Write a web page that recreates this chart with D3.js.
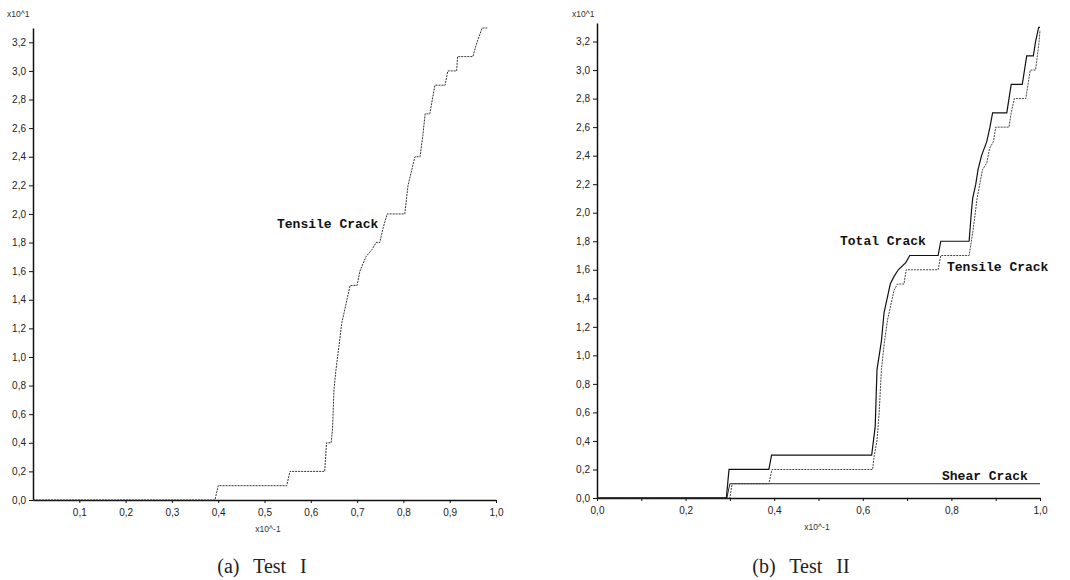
<!DOCTYPE html>
<html lang="en">
	<head>
		<meta charset="utf-8">
		<title>Crack growth - Test I / Test II</title>
		<script type="text/javascript" src="https://cdn.jsdelivr.net/npm/d3@7"></script>
		<style type="text/css">
			body {
				margin: 0;
				background-color: white;
			}
			.axis text {
				font-family: "Liberation Sans", Arial, sans-serif;
				font-size: 10px;
				fill: #222;
			}
			.axis path, .axis line {
				stroke: #111;
			}
			.unit {
				font-family: "Liberation Sans", Arial, sans-serif;
				font-size: 8.5px;
				fill: #333;
			}
			.curveLabel {
				font-family: "Liberation Mono", "Courier New", monospace;
				font-size: 13px;
				font-weight: bold;
				fill: #111;
			}
			.caption {
				font-family: "Liberation Serif", "DejaVu Serif", serif;
				font-size: 20px;
				fill: #222;
				word-spacing: 9px;
			}
		</style>
	</head>
	<body>
		<script type="text/javascript">

			//Width and height
			var w = 1070;
			var h = 580;

			//Tick values (x10^1 on y, x10^-1 on x)
			var yTicks = [0, 0.2, 0.4, 0.6, 0.8, 1.0, 1.2, 1.4, 1.6, 1.8, 2.0, 2.2, 2.4, 2.6, 2.8, 3.0, 3.2];
			var xTicksA = [0.1, 0.2, 0.3, 0.4, 0.5, 0.6, 0.7, 0.8, 0.9, 1.0];
			var xTicksB = [0, 0.2, 0.4, 0.6, 0.8, 1.0];
			var xMinorB = [0.1, 0.3, 0.5, 0.7, 0.9];

			//Test I - tensile crack (x, y)
			var tensileA = [[0, 0], [0.393, 0], [0.400, 0.1], [0.548, 0.1], [0.555, 0.2], [0.630, 0.2],
				[0.632, 0.3], [0.634, 0.4], [0.644, 0.4], [0.647, 0.5], [0.650, 0.77], [0.654, 0.9],
				[0.661, 1.08], [0.667, 1.24], [0.672, 1.31], [0.678, 1.4], [0.685, 1.5], [0.700, 1.5],
				[0.706, 1.6], [0.719, 1.7], [0.732, 1.75], [0.741, 1.8], [0.749, 1.8], [0.756, 1.9],
				[0.765, 2.0], [0.803, 2.0], [0.810, 2.2], [0.825, 2.4], [0.836, 2.4], [0.842, 2.55],
				[0.847, 2.7], [0.857, 2.7], [0.868, 2.9], [0.890, 2.9], [0.896, 3.0], [0.915, 3.0],
				[0.917, 3.1], [0.950, 3.1], [0.959, 3.2], [0.970, 3.3], [0.981, 3.3]];

			//Test II - total, tensile and shear cracks (x, y)
			var totalB = [[0, 0], [0.292, 0], [0.298, 0.2], [0.388, 0.2], [0.394, 0.3], [0.620, 0.3],
				[0.624, 0.4], [0.628, 0.5], [0.632, 0.9], [0.637, 1.0], [0.642, 1.1], [0.648, 1.3],
				[0.655, 1.4], [0.662, 1.5], [0.670, 1.55], [0.680, 1.6], [0.697, 1.65], [0.706, 1.7],
				[0.770, 1.7], [0.776, 1.8], [0.840, 1.8], [0.845, 2.0], [0.848, 2.1], [0.855, 2.2],
				[0.860, 2.3], [0.868, 2.4], [0.880, 2.5], [0.887, 2.6], [0.893, 2.7], [0.925, 2.7],
				[0.930, 2.8], [0.935, 2.9], [0.960, 2.9], [0.965, 3.0], [0.970, 3.1], [0.985, 3.1],
				[0.990, 3.2], [0.997, 3.3], [1.0, 3.3]];

			var tensileB = [[0, 0], [0.300, 0], [0.305, 0.1], [0.388, 0.1], [0.395, 0.2], [0.622, 0.2],
				[0.626, 0.3], [0.632, 0.4], [0.637, 0.6], [0.642, 0.9], [0.649, 1.1], [0.656, 1.25],
				[0.663, 1.35], [0.670, 1.45], [0.678, 1.5], [0.693, 1.5], [0.698, 1.6], [0.770, 1.6],
				[0.776, 1.7], [0.840, 1.7], [0.845, 1.8], [0.850, 1.9], [0.858, 2.1], [0.864, 2.2],
				[0.870, 2.3], [0.880, 2.35], [0.886, 2.45], [0.895, 2.5], [0.900, 2.6], [0.930, 2.6],
				[0.935, 2.7], [0.942, 2.8], [0.968, 2.8], [0.973, 2.9], [0.978, 3.0], [0.990, 3.0],
				[0.994, 3.1], [0.998, 3.2], [1.0, 3.28]];

			var shearB = [[0, 0], [0.293, 0], [0.300, 0.1], [1.0, 0.1]];

			//Create SVG element
			var svg = d3.select("body")
						.append("svg")
						.attr("width", w)
						.attr("height", h);

			svg.append("rect")
				.attr("width", w)
				.attr("height", h)
				.attr("fill", "white");

			var commaFormat = function(d) {
				return d3.format(".1f")(d).replace(".", ",");
			};

			//Scales for panel (a)
			var xScaleA = d3.scaleLinear().domain([0, 1]).range([33, 496]);
			var yScaleA = d3.scaleLinear().domain([0, 3.3]).range([500, 28]);

			//Scales for panel (b)
			var xScaleB = d3.scaleLinear().domain([0, 1]).range([597, 1040]);
			var yScaleB = d3.scaleLinear().domain([0, 3.33]).range([498, 23]);

			function drawAxes(xScale, yScale, xTicks, minor) {
				//Minor x ticks
				if (minor) {
					svg.append("g")
						.attr("class", "x axis")
						.attr("transform", "translate(0," + yScale(0) + ")")
						.call(d3.axisBottom(xScale).tickValues(minor).tickSize(3).tickFormat(""))
						.select(".domain").remove();
				}

				//Create X axis
				svg.append("g")
					.attr("class", "x axis")
					.attr("transform", "translate(0," + yScale(0) + ")")
					.call(d3.axisBottom(xScale)
						.tickValues(xTicks)
						.tickSize(3)
						.tickSizeOuter(0)
						.tickPadding(6)
						.tickFormat(commaFormat))
					.select(".domain")
					.attr("stroke-width", 1.5);

				//Create Y axis
				svg.append("g")
					.attr("class", "y axis")
					.attr("transform", "translate(" + xScale(0) + ",0)")
					.call(d3.axisLeft(yScale)
						.tickValues(yTicks)
						.tickSize(4)
						.tickSizeOuter(0)
						.tickPadding(3)
						.tickFormat(commaFormat))
					.select(".domain")
					.attr("stroke-width", 1.5);
			}

			drawAxes(xScaleA, yScaleA, xTicksA, null);
			drawAxes(xScaleB, yScaleB, xTicksB, xMinorB);

			//Line generators
			var lineA = d3.line()
				.x(function(d) { return xScaleA(d[0]); })
				.y(function(d) { return yScaleA(d[1]); });

			var lineB = d3.line()
				.x(function(d) { return xScaleB(d[0]); })
				.y(function(d) { return yScaleB(d[1]); });

			//Panel (a) curve
			svg.append("path")
				.attr("d", lineA(tensileA))
				.attr("fill", "none")
				.attr("stroke", "#333")
				.attr("stroke-width", 1)
				.attr("stroke-dasharray", "2,1");

			//Panel (b) curves
			svg.append("path")
				.attr("d", lineB(shearB))
				.attr("fill", "none")
				.attr("stroke", "#222")
				.attr("stroke-width", 1);

			svg.append("path")
				.attr("d", lineB(tensileB))
				.attr("fill", "none")
				.attr("stroke", "#444")
				.attr("stroke-width", 1)
				.attr("stroke-dasharray", "2,1");

			svg.append("path")
				.attr("d", lineB(totalB))
				.attr("fill", "none")
				.attr("stroke", "#111")
				.attr("stroke-width", 1.2);

			//Curve labels
			svg.append("text").attr("class", "curveLabel").attr("x", 277).attr("y", 228).text("Tensile Crack");
			svg.append("text").attr("class", "curveLabel").attr("x", 840).attr("y", 245).text("Total Crack");
			svg.append("text").attr("class", "curveLabel").attr("x", 947).attr("y", 271).text("Tensile Crack");
			svg.append("text").attr("class", "curveLabel").attr("x", 942).attr("y", 480).text("Shear Crack");

			//Unit labels
			svg.append("text").attr("class", "unit").attr("x", 7).attr("y", 17).text("x10^1");
			svg.append("text").attr("class", "unit").attr("x", 572).attr("y", 17).text("x10^1");
			svg.append("text").attr("class", "unit").attr("x", 268).attr("y", 532)
				.attr("text-anchor", "middle").text("x10^-1");
			svg.append("text").attr("class", "unit").attr("x", 817).attr("y", 530)
				.attr("text-anchor", "middle").text("x10^-1");

			//Captions
			svg.append("text").attr("class", "caption").attr("x", 262).attr("y", 573)
				.attr("text-anchor", "middle").text("(a) Test I");
			svg.append("text").attr("class", "caption").attr("x", 801).attr("y", 573)
				.attr("text-anchor", "middle").text("(b) Test II");

		</script>
	</body>
</html>
